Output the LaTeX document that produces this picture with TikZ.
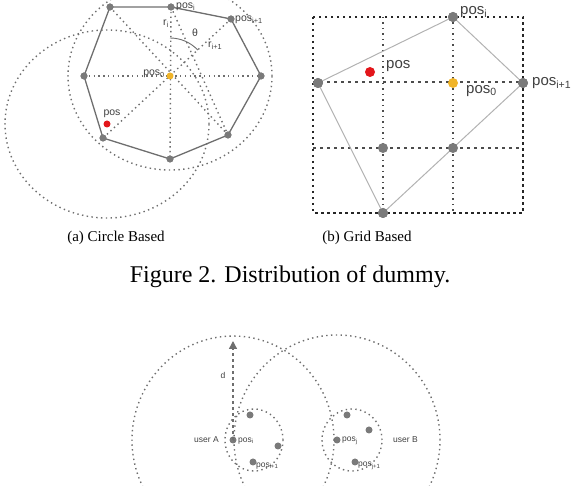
\documentclass[tikz,border=0pt]{standalone}
\usepackage{fontspec}
\setmainfont{Liberation Serif}
\setsansfont{Liberation Sans}
\usetikzlibrary{positioning,arrows.meta}
\definecolor{dotgray}{HTML}{7A7A7A}
\definecolor{linegray}{HTML}{6E6E6E}
\definecolor{posyellow}{HTML}{F0B429}
\definecolor{posred}{HTML}{E3161B}
\tikzset{
	dot/.style={circle,fill=dotgray,inner sep=0pt,minimum size=7pt},
	bigdot/.style={dot,minimum size=10pt},
	dotline/.style={draw=linegray,line width=1.4pt,dash pattern=on 1.4pt off 3.4pt},
	lbl/.style={font=\sffamily\fontsize{10.5}{10.5}\selectfont,text=black!75,inner sep=1pt},
	biglbl/.style={lbl,font=\sffamily\fontsize{15}{15}\selectfont},
	smalllbl/.style={lbl,font=\sffamily\fontsize{8.5}{8.5}\selectfont},
	capt/.style={font=\fontsize{15}{15}\selectfont,inner sep=0pt}
}
\begin{document}
\begin{tikzpicture}[x=1pt,y=-1pt]
		\useasboundingbox (0,0) rectangle (582,486);
		% (a) circle based
		\node [dot] (v1) at (110,7) {};
		\node [dot] (v2) at (171,7) {};
		\node [dot] (v3) at (231,19) {};
		\node [dot] (v4) at (261,76) {};
		\node [dot] (v5) at (228,135) {};
		\node [dot] (v6) at (170,159) {};
		\node [dot] (v7) at (103,138) {};
		\node [dot] (v8) at (84,76) {};
		\draw [dotline] (170,76) ellipse [x radius=102pt,y radius=94pt];
		\draw [dotline] (107,124) ellipse [x radius=102pt,y radius=94pt];
		\draw [dotline] (v8.center) -- (v4.center);
		\draw [dotline] (v2.center) -- (v6.center);
		\draw [dotline] (v1.center) -- (v5.center);
		\draw [dotline] (v3.center) -- (v7.center);
		\draw [dotline] (v2.center) -- (v5.center);
		\draw [linegray,line width=1.3pt] (v1.center) -- (v2.center) -- (v3.center) -- (v4.center) -- (v5.center) -- (v6.center) -- (v7.center) -- (v8.center) -- cycle;
		\foreach \v in {v1,v2,v3,v4,v5,v6,v7,v8}
			\node [dot] at (\v) {};
		\node [dot,fill=posyellow] (a0) at (170,76) {};
		\node [dot,fill=posred] (ap) at (107,124) {};
		\draw [linegray,line width=0.9pt] (a0.center) ++(0,-38) arc [start angle=90,end angle=43,radius=38pt];
		\node [lbl,anchor=east] at (166,74) {pos\textsubscript{0}};
		\node [lbl,anchor=south] at (112,119) {pos};
		\node [lbl,anchor=west] at (234,20) {pos\textsubscript{i+1}};
		\node [lbl,anchor=base west] at (175,9) {pos\textsubscript{i}};
		\node [lbl,anchor=east] at (170,24) {r\textsubscript{i}};
		\node [lbl] at (195,33) {θ};
		\node [lbl,anchor=west] at (207,46) {r\textsubscript{i+1}};
		\node [capt] at (116,238) {(a) Circle Based};
		% (b) grid based
		\draw [black!85,line width=1.7pt,dash pattern=on 2.5pt off 3.5pt] (313,17) rectangle (523,213);
		\draw [black!70,line width=1.2pt,dash pattern=on 2.5pt off 4.5pt] (313,82) -- (523,82);
		\draw [black!70,line width=1.2pt,dash pattern=on 2.5pt off 4.5pt] (313,148) -- (523,148);
		\draw [black!70,line width=1.2pt,dash pattern=on 1.5pt off 4pt] (383,17) -- (383,213);
		\draw [black!70,line width=1.2pt,dash pattern=on 1.5pt off 4pt] (453,17) -- (453,213);
		\node [bigdot] (bi) at (453,17) {};
		\node [bigdot] (bl) at (318,83) {};
		\node [bigdot] (br) at (523,83) {};
		\node [bigdot] (bb) at (383,213) {};
		\draw [black!30,line width=1pt] (bl.center) -- (bi.center) -- (br.center) -- (bb.center) -- cycle;
		\foreach \v in {bi,bl,br,bb}
			\node [bigdot] at (\v) {};
		\node [bigdot] (bm1) at (383,148) {};
		\node [bigdot] (bm2) at (453,148) {};
		\node [bigdot,fill=posyellow] (b0) at (453,83) {};
		\node [bigdot,fill=posred] (bp) at (370,72) {};
		\node [biglbl,anchor=west] at (459,12) {pos\textsubscript{i}};
		\node [biglbl,anchor=west] at (385,66) {pos};
		\node [biglbl,anchor=west] at (465,91) {pos\textsubscript{0}};
		\node [biglbl,anchor=west] at (531,83) {pos\textsubscript{i+1}};
		\node [capt] at (367,238) {(b) Grid Based};
		\node [capt,font=\fontsize{24}{24}\selectfont] at (290,277) {Figure 2. Distribution of dummy.};
		% (c) two users
		\node [dot] (pi) at (233,440) {};
		\node [dot] (pj) at (337,440) {};
		\coordinate (dtip) at (233,341);
		\draw [dotline] (pi.center) ellipse [x radius=101pt,y radius=104pt];
		\draw [dotline] (pj.center) ellipse [x radius=103pt,y radius=105pt];
		\draw [dotline] (254,440) ellipse [x radius=29pt,y radius=31pt];
		\draw [dotline] (352,440) ellipse [x radius=30pt,y radius=31pt];
		\draw [linegray,line width=1.4pt,dash pattern=on 3pt off 3pt,-{Triangle[width=8pt,length=8pt]}] (pi.center) -- (dtip);
		\node [dot] (pa1) at (250,415) {};
		\node [dot] (pa2) at (278,446) {};
		\node [dot] (pa3) at (253,462) {};
		\node [dot] (pb1) at (347,415) {};
		\node [dot] (pb2) at (369,430) {};
		\node [dot] (pb3) at (355,462) {};
		\node [smalllbl] at (223,375) {d};
		\node [smalllbl,anchor=east] at (220,440) {user A};
		\node [smalllbl,anchor=west] at (237,441) {pos\textsubscript{i}};
		\node [smalllbl,anchor=west] at (255,466) {pos\textsubscript{i+1}};
		\node [smalllbl,anchor=west] at (341,441) {pos\textsubscript{j}};
		\node [smalllbl,anchor=west] at (357,466) {pos\textsubscript{j+1}};
		\node [smalllbl,anchor=west] at (392,440) {user B};
	\end{tikzpicture}
\end{document}
